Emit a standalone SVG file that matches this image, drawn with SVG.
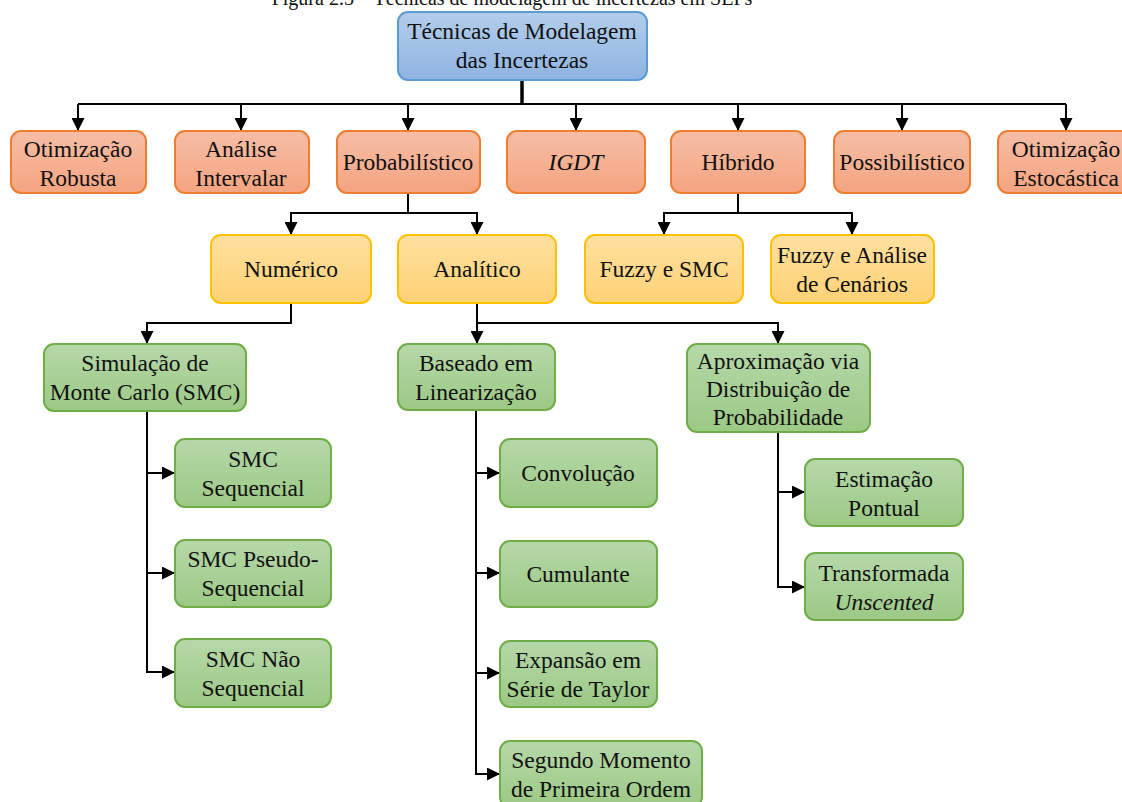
<svg xmlns="http://www.w3.org/2000/svg" width="1122" height="802" viewBox="0 0 1122 802" font-family="'Liberation Serif', 'Times New Roman', Tinos, 'DejaVu Serif', serif">
<defs>
<linearGradient id="gBlue" x1="0" y1="0" x2="0" y2="1"><stop offset="0" stop-color="#b3cdeb"/><stop offset="1" stop-color="#8fb4e1"/></linearGradient>
<linearGradient id="gOrange" x1="0" y1="0" x2="0" y2="1"><stop offset="0" stop-color="#f6bea6"/><stop offset="1" stop-color="#f4a480"/></linearGradient>
<linearGradient id="gYellow" x1="0" y1="0" x2="0" y2="1"><stop offset="0" stop-color="#ffe0a0"/><stop offset="1" stop-color="#fed275"/></linearGradient>
<linearGradient id="gGreen" x1="0" y1="0" x2="0" y2="1"><stop offset="0" stop-color="#b6d8a9"/><stop offset="1" stop-color="#9cc985"/></linearGradient>
<marker id="arrB" viewBox="0 0 10 10" refX="10" refY="5" markerWidth="13" markerHeight="13" markerUnits="userSpaceOnUse" orient="auto">
<path d="M0,0 L10,5 L0,10 z" fill="#000"/>
</marker>
</defs>
<style>
text{font-family:'Liberation Serif','Times New Roman',Tinos,'DejaVu Serif',serif;font-size:23.5px;fill:#111;text-anchor:middle}
text.title{font-size:20px}
.blue{fill:url(#gBlue);stroke:#5b9bd5;stroke-width:2}
.orange{fill:url(#gOrange);stroke:#ed7d31;stroke-width:2}
.yellow{fill:url(#gYellow);stroke:#ffc000;stroke-width:2}
.green{fill:url(#gGreen);stroke:#70ad47;stroke-width:2}
.c{fill:none;stroke:#000;stroke-width:2}
.it{font-style:italic}
</style>
<text class="title" x="512" y="5">Figura 2.5 – Técnicas de modelagem de incertezas em SEPs</text>

<g id="connectors">
<path class="c" d="M522,80 V104" style="stroke-width:3.5"/>
<path class="c" d="M78,104 H1066"/>
<path class="c" d="M78,104 V131" marker-end="url(#arrB)"/>
<path class="c" d="M241,104 V131" marker-end="url(#arrB)"/>
<path class="c" d="M408,104 V131" marker-end="url(#arrB)"/>
<path class="c" d="M576,104 V131" marker-end="url(#arrB)"/>
<path class="c" d="M738,104 V131" marker-end="url(#arrB)"/>
<path class="c" d="M902,104 V131" marker-end="url(#arrB)"/>
<path class="c" d="M1066,104 V131" marker-end="url(#arrB)"/>
<path class="c" d="M408,193 V213 H291 V235" marker-end="url(#arrB)"/>
<path class="c" d="M408,213 H477 V235" marker-end="url(#arrB)"/>
<path class="c" d="M738,193 V213 H664 V235" marker-end="url(#arrB)"/>
<path class="c" d="M738,213 H852 V235" marker-end="url(#arrB)"/>
<path class="c" d="M291,303 V323 H147 V344" marker-end="url(#arrB)"/>
<path class="c" d="M477,303 V344" marker-end="url(#arrB)"/>
<path class="c" d="M477,323 H778 V344" marker-end="url(#arrB)"/>
<path class="c" d="M147,411 V672 H175" marker-end="url(#arrB)"/>
<path class="c" d="M147,473 H175" marker-end="url(#arrB)"/>
<path class="c" d="M147,573 H175" marker-end="url(#arrB)"/>
<path class="c" d="M476,410 V774 H500" marker-end="url(#arrB)"/>
<path class="c" d="M476,473 H500" marker-end="url(#arrB)"/>
<path class="c" d="M476,573 H500" marker-end="url(#arrB)"/>
<path class="c" d="M476,673 H500" marker-end="url(#arrB)"/>
<path class="c" d="M778,432 V587 H805" marker-end="url(#arrB)"/>
<path class="c" d="M778,492 H805" marker-end="url(#arrB)"/>
</g>

<g id="root"><rect class="blue" x="398" y="12" width="249" height="68" rx="10"/>
<text x="522" y="39">Técnicas de Modelagem</text><text x="522" y="68">das Incertezas</text></g>

<g id="otim-robusta"><rect class="orange" x="11" y="131" width="135" height="62" rx="10"/>
<text x="78" y="157">Otimização</text><text x="78" y="186">Robusta</text></g>
<g id="analise-intervalar"><rect class="orange" x="175" y="131" width="134" height="62" rx="10"/>
<text x="241" y="157">Análise</text><text x="241" y="186">Intervalar</text></g>
<g id="probabilistico"><rect class="orange" x="337" y="131" width="143" height="62" rx="10"/>
<text x="408" y="170">Probabilístico</text></g>
<g id="igdt"><rect class="orange" x="507" y="131" width="138" height="62" rx="10"/>
<text class="it" x="576" y="170">IGDT</text></g>
<g id="hibrido"><rect class="orange" x="671" y="131" width="134" height="62" rx="10"/>
<text x="738" y="170">Híbrido</text></g>
<g id="possibilistico"><rect class="orange" x="834" y="131" width="136" height="62" rx="10"/>
<text x="902" y="170">Possibilístico</text></g>
<g id="otim-estocastica"><rect class="orange" x="998" y="131" width="136" height="62" rx="10"/>
<text x="1066" y="157">Otimização</text><text x="1066" y="186">Estocástica</text></g>

<g id="numerico"><rect class="yellow" x="211" y="235" width="160" height="68" rx="10"/>
<text x="291" y="277">Numérico</text></g>
<g id="analitico"><rect class="yellow" x="398" y="235" width="158" height="68" rx="10"/>
<text x="477" y="277">Analítico</text></g>
<g id="fuzzy-smc"><rect class="yellow" x="585" y="235" width="158" height="68" rx="10"/>
<text x="664" y="277">Fuzzy e SMC</text></g>
<g id="fuzzy-cenarios"><rect class="yellow" x="771" y="235" width="163" height="68" rx="10"/>
<text x="852" y="263">Fuzzy e Análise</text><text x="852" y="292">de Cenários</text></g>

<g id="smc"><rect class="green" x="44" y="344" width="202" height="67" rx="10"/>
<text x="145" y="371">Simulação de</text><text x="145" y="400">Monte Carlo (SMC)</text></g>
<g id="linearizacao"><rect class="green" x="398" y="344" width="157" height="66" rx="10"/>
<text x="476" y="371">Baseado em</text><text x="476" y="400">Linearização</text></g>
<g id="aproximacao"><rect class="green" x="687" y="344" width="183" height="88" rx="10"/>
<text x="778" y="369">Aproximação via</text><text x="778" y="397">Distribuição de</text><text x="778" y="425">Probabilidade</text></g>

<g id="smc-seq"><rect class="green" x="175" y="439" width="156" height="68" rx="10"/>
<text x="253" y="467">SMC</text><text x="253" y="496">Sequencial</text></g>
<g id="smc-pseudo"><rect class="green" x="175" y="540" width="156" height="67" rx="10"/>
<text x="253" y="567">SMC Pseudo-</text><text x="253" y="596">Sequencial</text></g>
<g id="smc-nao"><rect class="green" x="175" y="639" width="156" height="68" rx="10"/>
<text x="253" y="667">SMC Não</text><text x="253" y="696">Sequencial</text></g>

<g id="convolucao"><rect class="green" x="500" y="439" width="157" height="68" rx="10"/>
<text x="578" y="481">Convolução</text></g>
<g id="cumulante"><rect class="green" x="500" y="541" width="157" height="66" rx="10"/>
<text x="578" y="582">Cumulante</text></g>
<g id="taylor"><rect class="green" x="500" y="641" width="157" height="66" rx="10"/>
<text x="578" y="668">Expansão em</text><text x="578" y="697">Série de Taylor</text></g>
<g id="sm-primeira"><rect class="green" x="500" y="741" width="202" height="66" rx="10"/>
<text x="601" y="768">Segundo Momento</text><text x="601" y="797">de Primeira Ordem</text></g>

<g id="estimacao"><rect class="green" x="805" y="459" width="158" height="67" rx="10"/>
<text x="884" y="487">Estimação</text><text x="884" y="516">Pontual</text></g>
<g id="unscented"><rect class="green" x="805" y="553" width="158" height="67" rx="10"/>
<text x="884" y="581">Transformada</text><text class="it" x="884" y="610">Unscented</text></g>
</svg>
